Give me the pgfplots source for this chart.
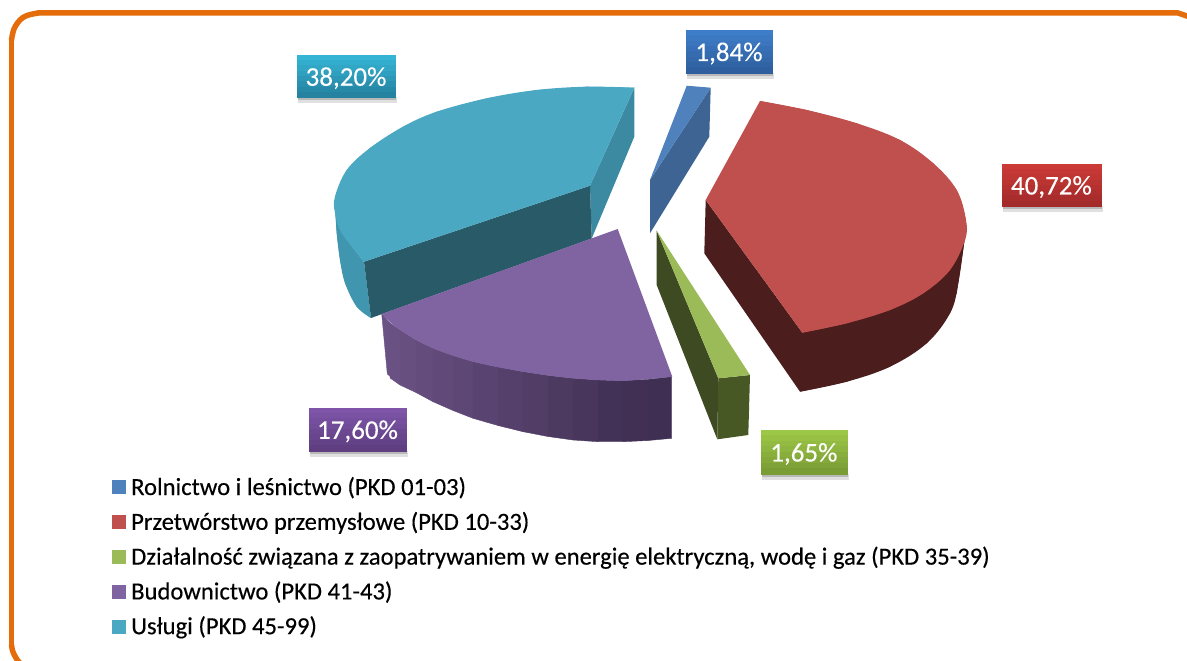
\documentclass[border=0pt]{standalone}
\usepackage{pgfplots}
\pgfplotsset{compat=1.18}
\usepackage{fontspec}
\setmainfont{Carlito}
\newfontfamily\legfont[FakeBold=0.35]{Carlito}
\newfontfamily\labfont[FakeBold=0.2]{Carlito}
\definecolor{frameor}{HTML}{E46C0A}
\definecolor{cyT}{HTML}{4BA8C3}\definecolor{cyD}{HTML}{285A68}\definecolor{cyM}{HTML}{3B8AA2}\definecolor{cyO}{HTML}{4096AE}
\definecolor{blT}{HTML}{4F81BD}\definecolor{blD}{HTML}{3E6494}
\definecolor{reT}{HTML}{C0504D}\definecolor{reD}{HTML}{4C1D1D}
\definecolor{grT}{HTML}{9BBB59}\definecolor{grD}{HTML}{3E4A22}\definecolor{grF}{HTML}{475825}
\definecolor{puT}{HTML}{8064A2}\definecolor{puL}{HTML}{6B5285}\definecolor{puR}{HTML}{3F2F52}
\definecolor{cyTop}{HTML}{35B4D4}\definecolor{cyBot}{HTML}{2582A0}
\definecolor{blTop}{HTML}{3E7DC9}\definecolor{blBot}{HTML}{2F5F9E}
\definecolor{reTop}{HTML}{CB3A37}\definecolor{reBot}{HTML}{A32B2A}
\definecolor{grTop}{HTML}{9DC746}\definecolor{grBot}{HTML}{7A9C35}
\definecolor{puTop}{HTML}{7E55A8}\definecolor{puBot}{HTML}{5F3F82}
% one horizontal band of a label box
\newcommand{\band}[6]{\addplot[forget plot,fill=#6,draw=#6,line width=.4pt] coordinates {(#1,{#2+(#4-#2)*#5/8}) (#3,{#2+(#4-#2)*#5/8}) (#3,{#2+(#4-#2)*(#5+1)/8}) (#1,{#2+(#4-#2)*(#5+1)/8})} -- cycle;}
\newcommand{\lab}[7]{%
 \addplot[forget plot,fill=black!12,draw=none] coordinates {(#1+1,#4) (#3+2,#4) (#3+2,#4+6) (#1+1,#4+6)} -- cycle;
 \addplot[forget plot,fill=black!28,draw=none] coordinates {(#1+1,#4) (#3+1,#4) (#3+1,#4+3) (#1+1,#4+3)} -- cycle;
 \band{#1}{#2}{#3}{#4}{0}{#5}
 \band{#1}{#2}{#3}{#4}{1}{#6!14!#5}
 \band{#1}{#2}{#3}{#4}{2}{#6!28!#5}
 \band{#1}{#2}{#3}{#4}{3}{#6!42!#5}
 \band{#1}{#2}{#3}{#4}{4}{#6!57!#5}
 \band{#1}{#2}{#3}{#4}{5}{#6!71!#5}
 \band{#1}{#2}{#3}{#4}{6}{#6!85!#5}
 \band{#1}{#2}{#3}{#4}{7}{#6}
 \node[text=white,font=\fontsize{27}{30}\labfont,anchor=center] at (axis cs:{(#1+#3)/2},{(#2+#4)/2+2}) {#7};
}
% one vertical slice of the purple outer wall
\newcommand{\slice}[7]{\addplot[forget plot,fill=puR!#1!puL,draw=puR!#1!puL,line width=.4pt] coordinates {(#2,#3) (#5,#6) (#5,#7) (#2,#4)} -- cycle;}
\begin{document}
\begin{tikzpicture}
\begin{axis}[
 name=ax,
 scale only axis,width=1187pt,height=661pt,
 xmin=0,xmax=1187,ymin=0,ymax=661,y dir=reverse,
 hide axis,
 legend cell align=left,
 legend style={at={(axis cs:112,479)},anchor=north west,draw=none,fill=none,
   font=\fontsize{24.6}{26}\legfont,row sep=12.8pt,inner sep=0pt,outer sep=0pt,
   nodes={inner sep=0pt,outer sep=0pt,text height=16pt,text depth=6pt}},
 legend image code/.code={\fill[#1] (0pt,-3.5pt) rectangle (12.5pt,9.5pt);\path[draw=none,fill=none] (19pt,0pt) -- (0pt,0pt);},
]
% frame
\addplot[forget plot,draw=frameor,line width=5.5pt,smooth,tension=.5,line cap=round] coordinates {(24,666) (18,661) (13,652) (11.5,645)};
\addplot[forget plot,draw=frameor,line width=5.5pt,line cap=round] coordinates {(11.5,645) (11.5,40)};
\addplot[forget plot,draw=frameor,line width=5.5pt,smooth,tension=.6,line cap=round] coordinates {(11.5,40) (14,29) (20,20) (27,15.5) (38,13)};
\addplot[forget plot,draw=frameor,line width=5.5pt,line cap=round] coordinates {(38,13) (1178,13) (1190,17)};
% cyan
\addplot[forget plot,fill=cyO,draw=none] coordinates {(335,205) (336.7,233) (340,260) (345,283) (356.7,306.7) (371,318) (364,262) (341.7,233)} -- cycle;
\addplot[forget plot,fill=cyO,draw=none,smooth,tension=.6] coordinates {(335,205) (336.7,233) (340,260) (345,283) (356.7,306.7) (371,318)};
\addplot[forget plot,fill=cyM,draw=none] coordinates {(634.3,87.7) (590,185.7) (591.7,238.5) (634.3,136.7)} -- cycle;
\addplot[forget plot,fill=cyD,draw=none] coordinates {(364,261.7) (590,185.7) (591.7,238.5) (371,318)} -- cycle;
\addplot[forget plot,fill=cyT,draw=none] coordinates {(634.3,87.7) (586.7,86.7) (536.7,90) (486.7,98.3) (436.7,111.7) (403,126.7) (370,148) (346.7,170) (335,196.7) (335,213) (341.7,233) (364,261.7) (590,185.7)} -- cycle;
\addplot[forget plot,fill=cyT,draw=none,smooth,tension=.6] coordinates {(634.3,87.7) (586.7,86.7) (536.7,90) (486.7,98.3) (436.7,111.7) (403,126.7) (370,148) (346.7,170) (335,196.7) (335,213) (341.7,233) (364,261.7)};
% blue
\addplot[forget plot,fill=blD,draw=none] coordinates {(710.7,87.7) (650,180) (650,233.3) (709.3,136.7)} -- cycle;
\addplot[forget plot,fill=blT,draw=none] coordinates {(686.7,85.7) (710.7,87.7) (650,180)} -- cycle;
% red
\addplot[forget plot,fill=reD,draw=none] coordinates {(705.7,200) (704.3,253.3) (800,391.7) (846.7,381.7) (890,366.7) (926.7,343.3) (950,313.3) (956.7,293.3) (965,236.7) (802.3,332.7)} -- cycle;
\addplot[forget plot,fill=reD,draw=none,smooth,tension=.6] coordinates {(800,391.7) (846.7,381.7) (890,366.7) (926.7,343.3) (950,313.3) (958,285) (965,236.7)};
\addplot[forget plot,fill=reT,draw=none] coordinates {(760,101) (806.7,110) (856.7,123.3) (900,140) (933.3,163.3) (956.7,190) (966,220) (965,240) (950,270) (923.3,293.3) (890,310) (846.7,323.3) (802.3,332.7) (705.7,200)} -- cycle;
\addplot[forget plot,fill=reT,draw=none,smooth,tension=.6] coordinates {(760,101) (806.7,110) (856.7,123.3) (900,140) (933.3,163.3) (956.7,190) (966,220) (965,240) (950,270) (923.3,293.3) (890,310) (846.7,323.3) (802.3,332.7)};
% green
\addplot[forget plot,fill=grD,draw=none] coordinates {(656.7,230.7) (718.3,378.3) (717.3,439.3) (656.7,285)} -- cycle;
\addplot[forget plot,fill=grF,draw=none] coordinates {(718.3,378.3) (750,375) (748.3,435) (717.3,439.3)} -- cycle;
\addplot[forget plot,fill=grT,draw=none] coordinates {(656.7,230.7) (750,375) (718.3,378.3)} -- cycle;
% purple wall
\addplot[forget plot,fill=puL,draw=puL,line width=.4pt] coordinates {(381.7,314) (390,323) (392,378) (387.3,374)} -- cycle;
\slice{4}{390}{323}{378}{400}{330}{385}
\slice{9}{400}{330}{385}{416}{340}{392.5}
\slice{16}{416}{340}{392.5}{433}{348.3}{401.7}
\slice{23}{433}{348.3}{401.7}{453}{355.5}{410.5}
\slice{31}{453}{355.5}{410.5}{473}{361.7}{418.3}
\slice{40}{473}{361.7}{418.3}{498}{367}{425.5}
\slice{50}{498}{367}{425.5}{523}{371.7}{431.7}
\slice{60}{523}{371.7}{431.7}{548}{375.5}{436.5}
\slice{70}{548}{375.5}{436.5}{573}{378.3}{440}
\slice{80}{573}{378.3}{440}{598}{380}{441.7}
\slice{90}{598}{380}{441.7}{623}{380.7}{441.7}
\slice{96}{623}{380.7}{441.7}{648}{379.5}{440.5}
\slice{100}{648}{379.5}{440.5}{671.7}{376.7}{438.3}
% purple top
\addplot[forget plot,fill=puT,draw=none] coordinates {(617.7,229) (381.7,314) (400,330) (433.3,348.3) (473.3,361.7) (523.3,371.7) (573.3,378.3) (623.3,380.7) (672.3,376.7)} -- cycle;
\addplot[forget plot,fill=puT,draw=none,smooth,tension=.6] coordinates {(381.7,314) (400,330) (433.3,348.3) (473.3,361.7) (523.3,371.7) (573.3,378.3) (623.3,380.7) (672.3,376.7)};
% labels
\lab{297}{55}{395}{97.5}{cyTop}{cyBot}{38,20\%}
\lab{686}{30}{772}{73}{blTop}{blBot}{1,84\%}
\lab{1002}{164}{1100.7}{206}{reTop}{reBot}{40,72\%}
\lab{761}{430}{846.7}{474}{grTop}{grBot}{1,65\%}
\lab{309}{408}{406}{450.7}{puTop}{puBot}{17,60\%}
% legend
\addlegendimage{blT}\addlegendentry{Rolnictwo i leśnictwo (PKD 01-03)}
\addlegendimage{reT}\addlegendentry{Przetwórstwo przemysłowe (PKD 10-33)}
\addlegendimage{grT}\addlegendentry{Działalność związana z zaopatrywaniem w energię elektryczną, wodę i gaz (PKD 35-39)}
\addlegendimage{puT}\addlegendentry{Budownictwo (PKD 41-43)}
\addlegendimage{cyT}\addlegendentry{Usługi (PKD 45-99)}
\end{axis}
\pgfresetboundingbox
\path[use as bounding box] (ax.south west) rectangle (ax.north east);
\end{tikzpicture}
\end{document}
